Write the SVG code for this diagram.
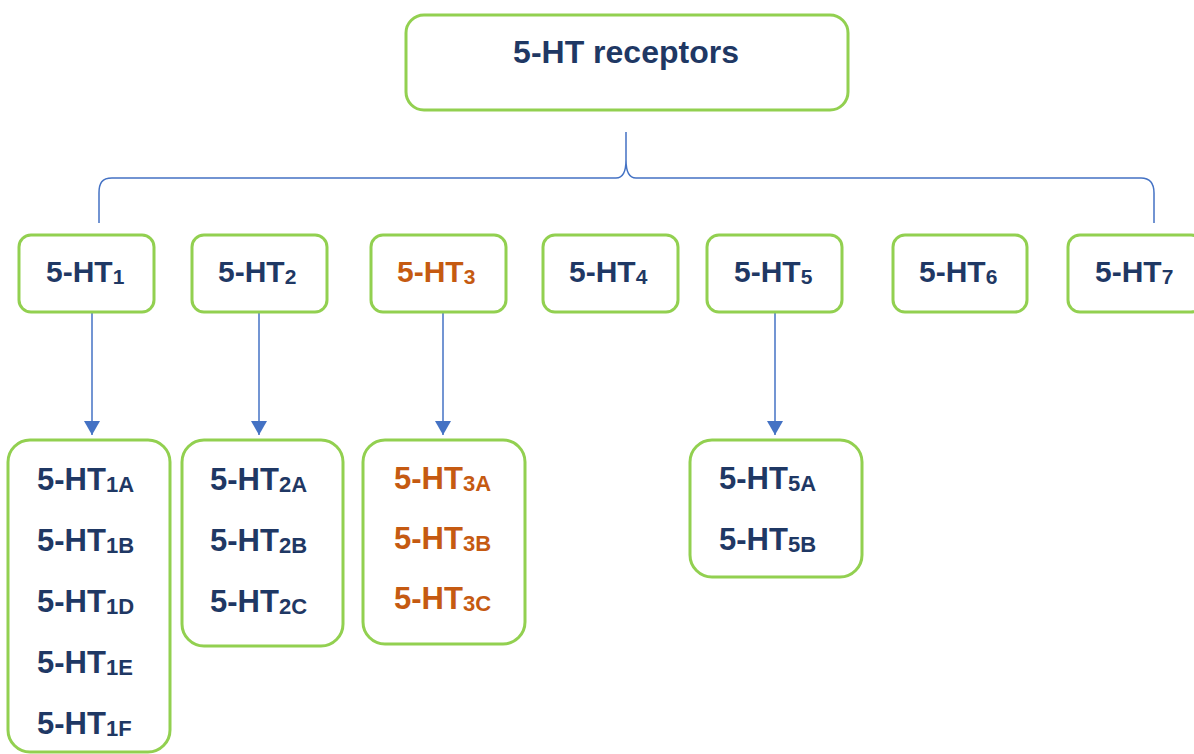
<svg xmlns="http://www.w3.org/2000/svg" width="1194" height="754" viewBox="0 0 1194 754">
  <defs>
    <style>
      .box { fill: #FFFFFF; stroke: #92D050; stroke-width: 3; }
      .lbl { font-family: "Liberation Sans", Arial, sans-serif; font-weight: bold; fill: #1F3864; }
      .orange { fill: #C55A11; }
      .t1 { font-size: 30px; }
      .t2 { font-size: 31px; }
      .sub { font-size: 21px; }
      .sub2 { font-size: 22px; }
      .link { fill: none; stroke: #4472C4; stroke-width: 1.5; }
    </style>
    <marker id="arrow" viewBox="0 0 14 16" refX="14" refY="8" markerWidth="14" markerHeight="16" markerUnits="userSpaceOnUse" orient="auto">
      <path d="M0,0 L14,8 L0,16 Z" fill="#4472C4"/>
    </marker>
  </defs>
  <rect width="1194" height="754" fill="#FFFFFF"/>

  <!-- connectors -->
  <g id="connectors">
    <path class="link" d="M99,223 L99,193 C99,183 102,178 112,178 L616,178 C622,178 626,172 626,160 L626,132 M626,160 C626,172 630,178 636,178 L1141,178 C1150,178 1154,183 1154,193 L1154,223"/>
    <path class="link" d="M92,312 V435" marker-end="url(#arrow)"/>
    <path class="link" d="M259,312 V435" marker-end="url(#arrow)"/>
    <path class="link" d="M443,312 V435" marker-end="url(#arrow)"/>
    <path class="link" d="M775,312 V435" marker-end="url(#arrow)"/>
  </g>

  <!-- root -->
  <g id="root">
    <rect class="box" x="406" y="15" width="442" height="95" rx="18"/>
    <text class="lbl" x="626" y="63" font-size="32" text-anchor="middle">5-HT receptors</text>
  </g>

  <!-- receptor families -->
  <g id="ht1">
    <rect class="box" x="19" y="235" width="135" height="77" rx="12"/>
    <text class="lbl t1" x="46" y="282">5-HT<tspan class="sub" dy="2">1</tspan></text>
  </g>
  <g id="ht2">
    <rect class="box" x="192" y="235" width="135" height="77" rx="12"/>
    <text class="lbl t1" x="218" y="282">5-HT<tspan class="sub" dy="2">2</tspan></text>
  </g>
  <g id="ht3">
    <rect class="box" x="371" y="235" width="135" height="77" rx="12"/>
    <text class="lbl orange t1" x="397" y="282">5-HT<tspan class="sub" dy="2">3</tspan></text>
  </g>
  <g id="ht4">
    <rect class="box" x="543" y="235" width="135" height="77" rx="12"/>
    <text class="lbl t1" x="569" y="282">5-HT<tspan class="sub" dy="2">4</tspan></text>
  </g>
  <g id="ht5">
    <rect class="box" x="707" y="235" width="135" height="77" rx="12"/>
    <text class="lbl t1" x="734" y="282">5-HT<tspan class="sub" dy="2">5</tspan></text>
  </g>
  <g id="ht6">
    <rect class="box" x="893" y="235" width="134" height="77" rx="12"/>
    <text class="lbl t1" x="919" y="282">5-HT<tspan class="sub" dy="2">6</tspan></text>
  </g>
  <g id="ht7">
    <rect class="box" x="1068" y="235" width="135" height="77" rx="12"/>
    <text class="lbl t1" x="1095" y="282">5-HT<tspan class="sub" dy="2">7</tspan></text>
  </g>

  <!-- subtypes -->
  <g id="ht1-subtypes">
    <rect class="box" x="8" y="440" width="162" height="312" rx="22"/>
    <text class="lbl t2" x="37" y="490">5-HT<tspan class="sub2" dy="2">1A</tspan></text>
    <text class="lbl t2" x="37" y="551">5-HT<tspan class="sub2" dy="2">1B</tspan></text>
    <text class="lbl t2" x="37" y="612">5-HT<tspan class="sub2" dy="2">1D</tspan></text>
    <text class="lbl t2" x="37" y="673">5-HT<tspan class="sub2" dy="2">1E</tspan></text>
    <text class="lbl t2" x="37" y="734">5-HT<tspan class="sub2" dy="2">1F</tspan></text>
  </g>
  <g id="ht2-subtypes">
    <rect class="box" x="182" y="440" width="161" height="206" rx="22"/>
    <text class="lbl t2" x="210" y="490">5-HT<tspan class="sub2" dy="2">2A</tspan></text>
    <text class="lbl t2" x="210" y="551">5-HT<tspan class="sub2" dy="2">2B</tspan></text>
    <text class="lbl t2" x="210" y="612">5-HT<tspan class="sub2" dy="2">2C</tspan></text>
  </g>
  <g id="ht3-subtypes">
    <rect class="box" x="363" y="440" width="162" height="204" rx="22"/>
    <text class="lbl orange t2" x="394" y="489">5-HT<tspan class="sub2" dy="2">3A</tspan></text>
    <text class="lbl orange t2" x="394" y="549">5-HT<tspan class="sub2" dy="2">3B</tspan></text>
    <text class="lbl orange t2" x="394" y="609">5-HT<tspan class="sub2" dy="2">3C</tspan></text>
  </g>
  <g id="ht5-subtypes">
    <rect class="box" x="690" y="440" width="172" height="137" rx="22"/>
    <text class="lbl t2" x="719" y="489">5-HT<tspan class="sub2" dy="2">5A</tspan></text>
    <text class="lbl t2" x="719" y="550">5-HT<tspan class="sub2" dy="2">5B</tspan></text>
  </g>
</svg>
